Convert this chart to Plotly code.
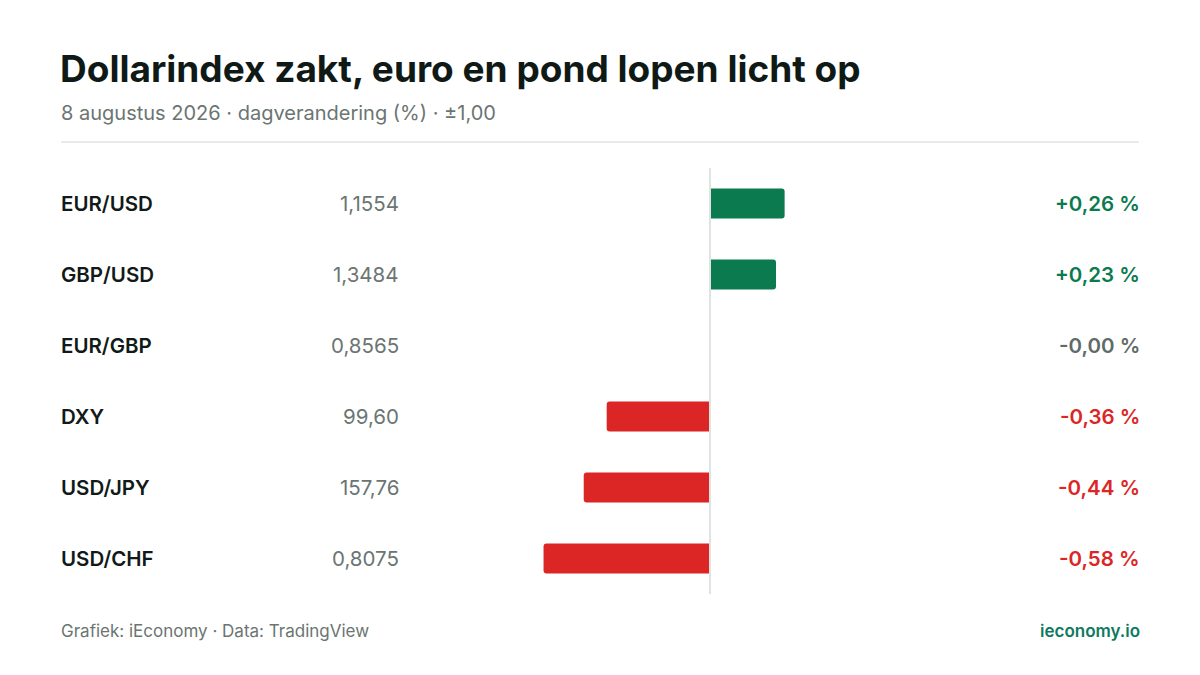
import plotly.graph_objects as go

# Data
pairs = ["EUR/USD", "GBP/USD", "EUR/GBP", "DXY", "USD/JPY", "USD/CHF"]
rates = ["1,1554", "1,3484", "0,8565", "99,60", "157,76", "0,8075"]
changes = [0.26, 0.23, -0.00, -0.36, -0.44, -0.58]

W, H = 1200, 675
GREEN = "#0b7a4f"
RED = "#dc2626"
GREY = "#5f6b68"
DARK = "#111a18"


def px(x):
    return x / W


def py(y):
    # pixel row from top -> paper y
    return 1 - y / H


def colour(v):
    if round(v, 2) > 0:
        return GREEN
    if round(v, 2) < 0:
        return RED
    return GREY


def fmt_pct(v):
    s = f"{v:+.2f}".replace(".", ",")
    return s + " %"


fig = go.Figure()
fig.add_trace(go.Bar(
    x=changes,
    y=pairs,
    orientation="h",
    marker=dict(color=[colour(v) for v in changes], line=dict(width=0), cornerradius=3),
    width=0.42,
    hoverinfo="skip",
))

annotations = []
for pair, rate, v in zip(pairs, rates, changes):
    annotations.append(dict(
        x=px(59), y=pair, xref="paper", yref="y", xanchor="left", yanchor="middle",
        text=pair, showarrow=False,
        font=dict(family="Inter", size=20.5, color=DARK, weight=600),
    ))
    annotations.append(dict(
        x=px(401), y=pair, xref="paper", yref="y", xanchor="right", yanchor="middle",
        text=rate, showarrow=False,
        font=dict(family="Inter", size=20.5, color="#6b7572"),
    ))
    annotations.append(dict(
        x=px(1142), y=pair, xref="paper", yref="y", xanchor="right", yanchor="middle",
        text=fmt_pct(v), showarrow=False,
        font=dict(family="Inter", size=20.5, color=colour(v), weight=600),
    ))

# title, subtitle, footer
annotations += [
    dict(x=px(58), y=py(68), xref="paper", yref="paper", xanchor="left", yanchor="middle",
         text="Dollarindex zakt, euro en pond lopen licht op", showarrow=False,
         font=dict(family="Inter", size=37, color="#0f1a17", weight=700)),
    dict(x=px(59), y=py(113), xref="paper", yref="paper", xanchor="left", yanchor="middle",
         text="8 augustus 2026 · dagverandering (%) · ±1,00", showarrow=False,
         font=dict(family="Inter", size=20, color="#6b7572")),
    dict(x=px(59), y=py(631), xref="paper", yref="paper", xanchor="left", yanchor="middle",
         text="Grafiek: iEconomy · Data: TradingView", showarrow=False,
         font=dict(family="Inter", size=17, color="#6b7572")),
    dict(x=px(1142), y=py(631), xref="paper", yref="paper", xanchor="right", yanchor="middle",
         text="ieconomy.io", showarrow=False,
         font=dict(family="Inter", size=17, color="#0d7a5f", weight=600)),
]

shapes = [
    # rule under subtitle
    dict(type="line", xref="paper", yref="paper", x0=px(61), x1=px(1139), y0=py(142), y1=py(142),
         line=dict(color="#dfe4e2", width=1.5)),
    # zero line
    dict(type="line", xref="x", yref="paper", x0=0, x1=0, y0=py(594), y1=py(168),
         line=dict(color="#dfe4e2", width=2), layer="above"),
]

fig.update_layout(
    width=W, height=H,
    margin=dict(l=0, r=0, t=0, b=0),
    paper_bgcolor="white", plot_bgcolor="white",
    showlegend=False,
    xaxis=dict(domain=[px(423), px(997)], range=[-1, 1], visible=False, fixedrange=True),
    yaxis=dict(domain=[py(594), py(168)], range=[5.5, -0.5], visible=False,
               type="category", fixedrange=True),
    annotations=annotations,
    shapes=shapes,
    font=dict(family="Inter"),
)

fig.write_html("out.html", config={"displayModeBar": False},
               post_script="document.body.style.margin='0';")
